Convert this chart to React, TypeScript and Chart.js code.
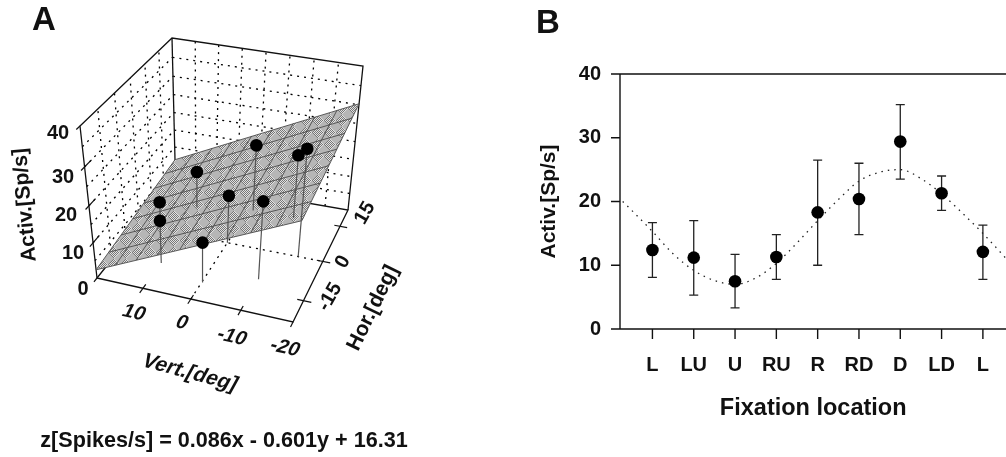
import React, { useEffect, useRef } from "react";
import { Chart, registerables } from "chart.js";
Chart.register(...registerables);

// ---------- Panel B data ----------
const locations = ["L", "LU", "U", "RU", "R", "RD", "D", "LD", "L"];
const meanRate = [12.4, 11.2, 7.5, 11.3, 18.3, 20.4, 29.4, 21.3, 12.1];
const errLow = [8.1, 5.3, 3.3, 7.8, 10.0, 14.8, 23.5, 18.6, 7.8];
const errHigh = [16.7, 17.0, 11.7, 14.8, 26.5, 26.0, 35.2, 24.0, 16.3];
const curveAt = [-0.72, -0.5, 0, 0.5, 1, 1.5, 2, 2.5, 3, 3.5, 4, 4.5, 5, 5.5, 6, 6.5, 7, 7.5, 8, 8.57];
const curveVal = [20, 18.6, 15.3, 11.8, 9.2, 7.6, 7.0, 8.0, 10.3, 13.5, 17.0, 20.3, 23.2, 24.6, 25.0, 23.6, 21.2, 18.2, 15.0, 11.0];

// ---------- Panel A data ----------
const ptHor = [-16, -12.5, 0, 12, 15, 15, 0, -11, 0];
const ptVert = [0, 10, 15, 11, -1, -10, -15, -10, 0];
const ptRate = [11, 12, 8, 10.5, 19, 18.2, 29.4, 21.3, 13.5];
const vertGrid = [20, 15, 10, 5, 0, -5, -10, -15, -20];
const horGrid = [-22.5, -15, -7.5, 0, 7.5, 15, 22.5];
const rateGrid = [5, 10, 15, 20, 25, 30, 35];
const meshVert = [20, 15.6, 11.1, 6.7, 2.2, -2.2, -6.7, -11.1, -15.6, -20];
const meshHor = [-22.5, -16.1, -9.6, -3.2, 3.2, 9.6, 16.1, 22.5];
const zTicks = ["0", "10", "20", "30", "40"];
const vertTicks = ["10", "0", "-10", "-20"];
const horTicks = ["15", "0", "-15"];
const fit = { hor: 0.086, vert: -0.601, base: 16.31 };

// ---------- projection of the 3-D box onto the page ----------
type P = [number, number];
const floorC: P[] = [[97, 278], [293, 322], [348, 210], [175.5, 180]];
const roofC: P[] = [[80, 126], [307, 163], [363, 66], [172, 38]];
const zBend = 0.105;
function homography(q: P[]) {
  const [[x0, y0], [x1, y1], [x2, y2], [x3, y3]] = q;
  const dx1 = x1 - x2, dx2 = x3 - x2, sx = x0 - x1 + x2 - x3;
  const dy1 = y1 - y2, dy2 = y3 - y2, sy = y0 - y1 + y2 - y3;
  const det = dx1 * dy2 - dx2 * dy1;
  const g = (sx * dy2 - dx2 * sy) / det, h = (dx1 * sy - sx * dy1) / det;
  const a = x1 - x0 + g * x1, b = x3 - x0 + h * x3, d = y1 - y0 + g * y1, e = y3 - y0 + h * y3;
  return (u: number, v: number): P => {
    const w = g * u + h * v + 1;
    return [(a * u + b * v + x0) / w, (d * u + e * v + y0) / w];
  };
}
const floorH = homography(floorC);
const roofH = homography(roofC);
function proj(hor: number, vert: number, rate: number) {
  const u = (20 - vert) / 40, v = (hor + 22.5) / 45, z = rate / 40;
  const t = z / (1 + zBend * (1 - z));
  const f = floorH(u, v), r = roofH(u, v);
  return { x: f[0] + (r[0] - f[0]) * t, y: f[1] + (r[1] - f[1]) * t };
}
const planeZ = (h: number, v: number) => fit.hor * h + fit.vert * v + fit.base;
const H0 = horGrid[0], H1 = horGrid[horGrid.length - 1], V0 = vertGrid[0], V1 = vertGrid[vertGrid.length - 1];

const FONT = '"Liberation Sans", Arial, sans-serif';

function line(points: { x: number; y: number }[], color: string, width: number, dash: number[] = []) {
  return { type: "scatter", data: points, showLine: true, borderColor: color, borderWidth: width, borderDash: dash, pointRadius: 0, fill: false, tension: 0 } as any;
}

function makePlanePattern() {
  const c = document.createElement("canvas");
  c.width = 24; c.height = 24;
  const g = c.getContext("2d")!;
  for (let y = 0; y < 24; y++) {
    for (let x = 0; x < 24; x++) {
      const patch = (Math.floor((x + y) / 12) + Math.floor((x - y + 24) / 12)) % 2 === 0;
      g.fillStyle = patch ? ((x + y) % 2 === 0 ? "#777777" : "#e2e2e2") : "#b6b6b6";
      g.fillRect(x, y, 1, 1);
    }
  }
  return g.createPattern(c, "repeat")!;
}

function text(ctx: CanvasRenderingContext2D, s: string, x: number, y: number, font: string, rot = 0, align: CanvasTextAlign = "center", skew = 0) {
  ctx.save();
  ctx.translate(x, y);
  ctx.rotate((rot * Math.PI) / 180);
  if (skew) ctx.transform(1, 0, skew, 1, 0, 0);
  ctx.font = font;
  ctx.fillStyle = "#111";
  ctx.textAlign = align;
  ctx.textBaseline = "middle";
  ctx.fillText(s, 0, 0);
  ctx.restore();
}

const labelsA = {
  id: "labelsA",
  afterDraw(chart: any) {
    const c = chart.ctx;
    const sx = chart.scales.x, sy = chart.scales.y;
    const X = (v: number) => sx.getPixelForValue(v), Y = (v: number) => sy.getPixelForValue(v);
    text(c, "A", X(44), Y(21), `bold 33px ${FONT}`);
    const zPos: P[] = [[83, 289], [73, 253], [66, 215], [63, 177], [58, 133]];
    zTicks.forEach((t, i) => text(c, t, X(zPos[i][0]), Y(zPos[i][1]), `bold 20px ${FONT}`));
    text(c, "Activ.[Sp/s]", X(25), Y(205), `bold 21px ${FONT}`, -95);
    const vPos: P[] = [[134, 313], [182, 323], [232, 337], [285, 348]];
    vertTicks.forEach((t, i) => text(c, t, X(vPos[i][0]), Y(vPos[i][1]), `bold 20px ${FONT}`, 13, "center", -0.25));
    text(c, "Vert.[deg]", X(190), Y(373), `bold 21px ${FONT}`, 15, "center", -0.25);
    const hPos: P[] = [[365, 213], [343, 262], [330, 297]];
    horTicks.forEach((t, i) => text(c, t, X(hPos[i][0]), Y(hPos[i][1]), `bold 20px ${FONT}`, -60));
    text(c, "Hor.[deg]", X(373), Y(308), `bold 21px ${FONT}`, -64);
    text(c, "z[Spikes/s] = 0.086x - 0.601y + 16.31", X(224), Y(441), `bold 21.6px ${FONT}`);
  },
};

const labelsB = {
  id: "labelsB",
  afterDraw(chart: any) {
    text(chart.ctx, "B", 28, 24, `bold 33px ${FONT}`);
  },
};

// Error bars are drawn from the data through the library's scales.
const errorBars = {
  id: "errorBars",
  afterDatasetsDraw(chart: any) {
    const c = chart.ctx, sx = chart.scales.x, sy = chart.scales.y;
    c.save();
    c.strokeStyle = "#222";
    c.lineWidth = 1.3;
    meanRate.forEach((_, i) => {
      const x = sx.getPixelForValue(i), lo = sy.getPixelForValue(errLow[i]), hi = sy.getPixelForValue(errHigh[i]);
      c.beginPath();
      c.moveTo(x, lo); c.lineTo(x, hi);
      c.moveTo(x - 4.5, lo); c.lineTo(x + 4.5, lo);
      c.moveTo(x - 4.5, hi); c.lineTo(x + 4.5, hi);
      c.stroke();
    });
    c.restore();
    const pts = chart.getDatasetMeta(1).data;
    c.save();
    c.fillStyle = "#000";
    pts.forEach((p: any) => { c.beginPath(); c.arc(p.x, p.y, 6.3, 0, Math.PI * 2); c.fill(); });
    c.restore();
  },
};

export default function App() {
  const refA = useRef<HTMLCanvasElement>(null);
  const refB = useRef<HTMLCanvasElement>(null);

  useEffect(() => {
    const ds: any[] = [];
    const DOT = "#000";
    const DASH = [2, 5];
    // back walls
    rateGrid.forEach((z) => {
      ds.push(line(horGrid.map((h) => proj(h, V0, z)), DOT, 1.3, DASH));
      ds.push(line(vertGrid.map((v) => proj(H1, v, z)), DOT, 1.3, DASH));
    });
    horGrid.slice(1, -1).forEach((h) => ds.push(line([proj(h, V0, 0), proj(h, V0, 40)], DOT, 1.3, DASH)));
    vertGrid.slice(1, -1).forEach((v) => ds.push(line([proj(H1, v, 0), proj(H1, v, 40)], DOT, 1.3, DASH)));
    // floor centre lines
    ds.push(line([proj(0, V0, 0), proj(0, V1, 0)], DOT, 1.3, DASH));
    ds.push(line([proj(H0, 0, 0), proj(H1, 0, 0)], DOT, 1.3, DASH));
    // box edges
    const edge = "#111";
    ds.push(line([proj(H0, V0, 0), proj(H0, V1, 0), proj(H1, V1, 0), proj(H1, V0, 0), proj(H0, V0, 0)], edge, 1.3));
    ds.push(line([proj(H0, V0, 0), proj(H0, V0, 40), proj(H1, V0, 40), proj(H1, V1, 40), proj(H1, V1, 0)], edge, 1.3));
    ds.push(line([proj(H1, V0, 40), proj(H1, V0, 0)], edge, 1.3));
    // axis ticks
    [10, 20, 30].forEach((z) => ds.push(line([proj(H0 - 1.5, V0, z), proj(H0 + 3, V0, z)], edge, 1.2)));
    ds.push(line([proj(H0 - 1.5, V0, 40), proj(H0, V0, 40)], edge, 1.2));
    ds.push(line([proj(H0 - 1.5, V0, 0), proj(H0, V0, 0)], edge, 1.2));
    [10, 0, -10].forEach((v) => ds.push(line([proj(H0 + 1.5, v, 0), proj(H0 - 1.7, v, 0)], edge, 1.2)));
    ds.push(line([proj(H0, V1, 0), proj(H0 - 1.7, V1, 0)], edge, 1.2));
    [-15, 0, 15].forEach((h) => ds.push(line([proj(h, V1 + 1.2, 0), proj(h, V1 - 1.5, 0)], edge, 1.2)));
    // fitted plane: two boundaries filled against each other
    const c0 = proj(H0, V0, planeZ(H0, V0)), c1 = proj(H1, V0, planeZ(H1, V0)), c2 = proj(H1, V1, planeZ(H1, V1)), c3 = proj(H0, V1, planeZ(H0, V1));
    const pattern = makePlanePattern();
    ds.push({ ...line([c0, c1, c2], "rgba(0,0,0,0)", 0), fill: `+1`, backgroundColor: pattern });
    ds.push({ ...line([c0, c3, c2], "rgba(0,0,0,0)", 0) });
    // mesh on the plane
    meshVert.forEach((v) => ds.push(line([proj(H0, v, planeZ(H0, v)), proj(H1, v, planeZ(H1, v))], "#4c4c4c", 0.9)));
    meshHor.forEach((h) => ds.push(line([proj(h, V0, planeZ(h, V0)), proj(h, V1, planeZ(h, V1))], "#4c4c4c", 0.9)));
    // sticks and points
    ptRate.forEach((z, i) => ds.push(line([proj(ptHor[i], ptVert[i], 0), proj(ptHor[i], ptVert[i], z)], "#555", 1.2)));
    ds.push({
      type: "scatter",
      data: ptRate.map((z, i) => proj(ptHor[i], ptVert[i], z)),
      pointRadius: 6.3,
      pointBackgroundColor: "#000",
      pointBorderWidth: 0,
      showLine: false,
    });
    // Chart.js paints low order last; paint in list order, back to front.
    ds.forEach((d, i) => { d.order = ds.length - i; });

    const chartA = new Chart(refA.current!, {
      type: "scatter",
      data: { datasets: ds },
      options: {
        animation: false,
        responsive: false,
        layout: { padding: 0, autoPadding: false },
        plugins: { legend: { display: false }, tooltip: { enabled: false } },
        scales: {
          x: { type: "linear", min: 0, max: 520, display: false },
          y: { type: "linear", min: 0, max: 457, reverse: true, display: false },
        },
      },
      plugins: [labelsA],
    } as any);

    const chartB = new Chart(refB.current!, {
      type: "scatter",
      data: {
        datasets: [
          {
            data: curveAt.map((x, i) => ({ x, y: curveVal[i] })),
            showLine: true,
            borderColor: "#222",
            borderWidth: 1.3,
            borderDash: [1.5, 5],
            pointRadius: 0,
            cubicInterpolationMode: "monotone",
          },
          { data: meanRate.map((y, i) => ({ x: i, y })), pointRadius: 0, showLine: false },
        ],
      },
      options: {
        animation: false,
        responsive: false,
        layout: { padding: { top: 74, left: 0, right: 0, bottom: 0 }, autoPadding: false },
        plugins: { legend: { display: false }, tooltip: { enabled: false } },
        scales: {
          x: {
            type: "linear",
            min: -0.785,
            max: 8.57,
            afterFit: (s: any) => { s.height = 128; },
            afterBuildTicks: (s: any) => { s.ticks = locations.map((_, i) => ({ value: i })); },
            ticks: {
              autoSkip: false,
              maxRotation: 0,
              padding: 24,
              color: "#111",
              font: { family: FONT, weight: "bold", size: 20 },
              callback: (v: any) => locations[v] ?? "",
            },
            grid: { display: false, drawTicks: false },
            border: { display: false },
            title: { display: true, text: "Fixation location", color: "#111", font: { family: FONT, weight: "bold", size: 23.5 }, padding: { top: 18, bottom: 34 } },
          },
          y: {
            min: 0,
            max: 40,
            afterFit: (s: any) => { s.width = 100; },
            ticks: { stepSize: 10, padding: 19, color: "#111", font: { family: FONT, weight: "bold", size: 20 } },
            grid: { display: false, drawTicks: false },
            border: { display: false },
            title: { display: true, text: "Activ.[Sp/s]", color: "#111", font: { family: FONT, weight: "bold", size: 21 }, padding: { top: 17, bottom: 0 } },
          },
        },
      },
      plugins: [
        errorBars,
        labelsB,
        {
          id: "frameB",
          beforeDatasetsDraw(chart: any) {
            const c = chart.ctx, a = chart.chartArea, sx = chart.scales.x, sy = chart.scales.y;
            c.save();
            c.strokeStyle = "#111";
            c.lineWidth = 1.4;
            c.beginPath();
            c.moveTo(a.left - 9, a.top); c.lineTo(a.right + 7, a.top);
            c.moveTo(a.left - 9, a.bottom); c.lineTo(a.right + 7, a.bottom);
            c.moveTo(a.left, a.top); c.lineTo(a.left, a.bottom);
            [10, 20, 30].forEach((v) => { const y = sy.getPixelForValue(v); c.moveTo(a.left - 9, y); c.lineTo(a.left, y); });
            locations.forEach((_, i) => { const x = sx.getPixelForValue(i); c.moveTo(x, a.bottom); c.lineTo(x, a.bottom + 10); });
            c.stroke();
            c.restore();
          },
        },
      ],
    } as any);

    return () => { chartA.destroy(); chartB.destroy(); };
  }, []);

  return (
    <div style={{ position: "fixed", left: 0, top: 0, width: 1006, height: 457, background: "#fff", overflow: "hidden" }}>
      <canvas ref={refA} width={520} height={457} style={{ position: "absolute", left: 0, top: 0 }} />
      <canvas ref={refB} width={493} height={457} style={{ position: "absolute", left: 520, top: 0 }} />
    </div>
  );
}
